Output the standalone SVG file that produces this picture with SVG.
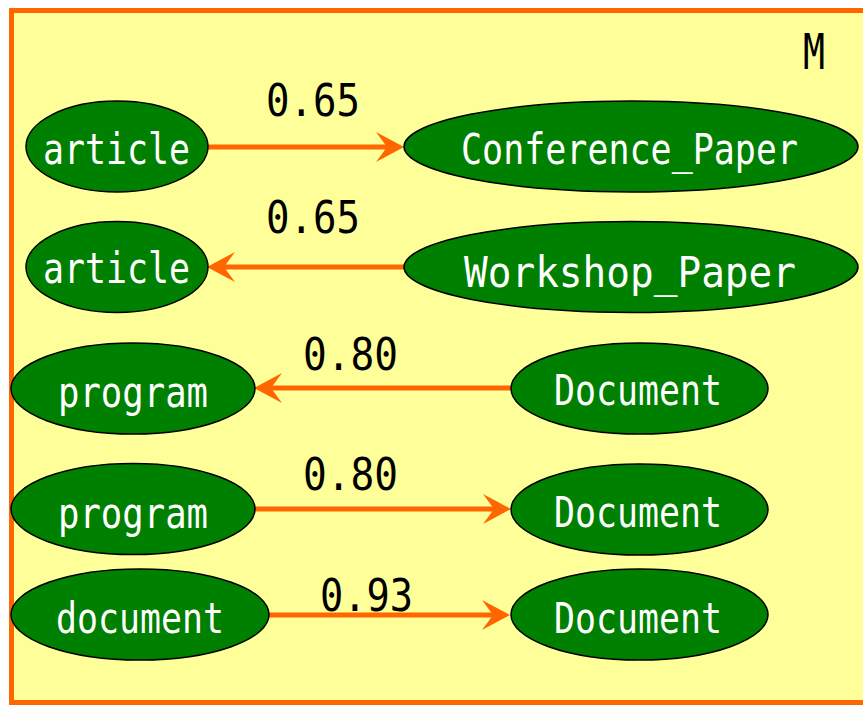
<svg xmlns="http://www.w3.org/2000/svg" width="863" height="706" viewBox="0 0 863 706">
<defs>
<style>
.node{fill:#008000;stroke:#000;stroke-width:1.5}
.lbl{fill:#fff;font-family:"DejaVu Sans Mono","Liberation Mono",monospace;font-size:42px}
.num{fill:#000;font-family:"DejaVu Sans Mono","Liberation Mono",monospace;font-size:45px}
.edge{stroke:#FF6600;stroke-width:5;fill:none}
</style>
<marker id="arr" markerUnits="userSpaceOnUse" markerWidth="32" markerHeight="32" refX="11" refY="15" orient="auto">
<path d="M0,0 L28,15 L0,30 L11,15 Z" fill="#FF6600"/>
</marker>
</defs>
<rect x="11.5" y="10.5" width="900" height="692" fill="#FFFF99" stroke="#FF6600" stroke-width="5"/>
<text x="803" y="69" font-family="DejaVu Sans Mono,monospace" font-size="49" textLength="22" lengthAdjust="spacingAndGlyphs">M</text>
<g id="connectors">
<line class="edge" x1="208" y1="147" x2="387" y2="147" marker-end="url(#arr)"/>
<line class="edge" x1="404" y1="267" x2="224" y2="267" marker-end="url(#arr)"/>
<line class="edge" x1="511" y1="388" x2="271" y2="388" marker-end="url(#arr)"/>
<line class="edge" x1="255" y1="509" x2="494" y2="509" marker-end="url(#arr)"/>
<line class="edge" x1="268" y1="615" x2="493" y2="615" marker-end="url(#arr)"/>
<text class="num" x="266" y="116" textLength="94" lengthAdjust="spacingAndGlyphs">0.65</text>
<text class="num" x="266" y="233" textLength="94" lengthAdjust="spacingAndGlyphs">0.65</text>
<text class="num" x="303" y="370" textLength="95" lengthAdjust="spacingAndGlyphs">0.80</text>
<text class="num" x="303" y="490" textLength="95" lengthAdjust="spacingAndGlyphs">0.80</text>
<text class="num" x="320" y="611" textLength="93" lengthAdjust="spacingAndGlyphs">0.93</text>
</g>
<g id="n1"><ellipse class="node" cx="117" cy="146.5" rx="91" ry="45.5"/><text class="lbl" x="43" y="164" textLength="147" lengthAdjust="spacingAndGlyphs">article</text></g>
<g id="n2"><ellipse class="node" cx="631" cy="146.5" rx="227" ry="45.5"/><text class="lbl" x="461" y="164" font-size="38" textLength="337" lengthAdjust="spacingAndGlyphs">Conference_Paper</text></g>
<g id="n3"><ellipse class="node" cx="117" cy="267" rx="91" ry="45.5"/><text class="lbl" x="43" y="283" textLength="147" lengthAdjust="spacingAndGlyphs">article</text></g>
<g id="n4"><ellipse class="node" cx="631" cy="267" rx="227" ry="45.5"/><text class="lbl" x="464" y="287" font-size="44" textLength="332" lengthAdjust="spacingAndGlyphs">Workshop_Paper</text></g>
<g id="n5"><ellipse class="node" cx="133" cy="388.5" rx="122" ry="45.5"/><text class="lbl" x="58" y="407" textLength="150" lengthAdjust="spacingAndGlyphs">program</text></g>
<g id="n6"><ellipse class="node" cx="639.5" cy="388.5" rx="128.5" ry="45.5"/><text class="lbl" x="554" y="405" textLength="168" lengthAdjust="spacingAndGlyphs">Document</text></g>
<g id="n7"><ellipse class="node" cx="133" cy="509" rx="122" ry="45.5"/><text class="lbl" x="58" y="528" textLength="150" lengthAdjust="spacingAndGlyphs">program</text></g>
<g id="n8"><ellipse class="node" cx="639.5" cy="509.5" rx="128.5" ry="45.5"/><text class="lbl" x="554" y="527" textLength="168" lengthAdjust="spacingAndGlyphs">Document</text></g>
<g id="n9"><ellipse class="node" cx="140" cy="614.5" rx="129" ry="45.5"/><text class="lbl" x="56" y="633" textLength="168" lengthAdjust="spacingAndGlyphs">document</text></g>
<g id="n10"><ellipse class="node" cx="639.5" cy="614.5" rx="128.5" ry="45.5"/><text class="lbl" x="554" y="633" textLength="168" lengthAdjust="spacingAndGlyphs">Document</text></g>
</svg>
